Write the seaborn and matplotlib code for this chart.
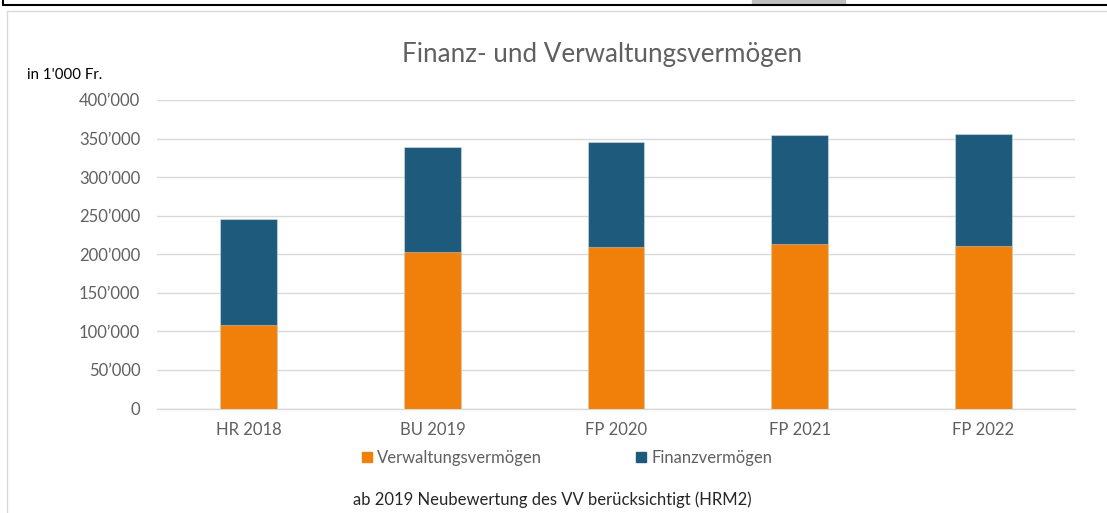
import matplotlib
matplotlib.use("Agg")
import matplotlib.pyplot as plt
import seaborn as sns
import numpy as np
import pandas as pd
from matplotlib.patches import Rectangle
from matplotlib.lines import Line2D
from matplotlib.ticker import FuncFormatter

categories = ["HR 2018", "BU 2019", "FP 2020", "FP 2021", "FP 2022"]
verwaltung = [108100, 202300, 209100, 213900, 210400]
finanz = [137300, 137200, 136900, 141200, 146000]
series_names = ["Verwaltungsvermögen", "Finanzvermögen"]
title = "Finanz- und Verwaltungsvermögen"
unit_label = "in 1'000 Fr."
footnote = "ab 2019 Neubewertung des VV berücksichtigt (HRM2)"

c_orange = "#F0800A"
c_blue = "#1E5A7C"
c_grey = "#606060"

sns.set_theme(style="white")
plt.rcParams["font.family"] = ["Lato", "DejaVu Sans"]

df = pd.DataFrame({"cat": categories, "verw": verwaltung, "fin": finanz})
df["total"] = df["verw"] + df["fin"]

fig = plt.figure(figsize=(11.07, 5.13), dpi=100)
ax = fig.add_axes([157 / 1107, 1 - 408.5 / 513, 918 / 1107, 308.5 / 513])

sns.barplot(data=df, x="cat", y="total", color=c_blue, width=0.31, ax=ax,
            saturation=1, edgecolor=(1, 1, 1, 0.35), linewidth=0.8, zorder=3)
sns.barplot(data=df, x="cat", y="verw", color=c_orange, width=0.31, ax=ax,
            saturation=1, edgecolor=(1, 1, 1, 0.35), linewidth=0.8, zorder=4)

ax.set_xlim(-0.5, 4.5)
ax.set_ylim(0, 400000)
ax.set_yticks(np.arange(0, 400001, 50000))
ax.yaxis.set_major_formatter(FuncFormatter(
    lambda v, p: "0" if v == 0 else f"{int(v)//1000}\u2019{int(v)%1000:03d}"))
ax.grid(axis="y", color="#D9D9D9", linewidth=1, zorder=0)
ax.set_axisbelow(True)
for s in ["top", "right", "left"]:
    ax.spines[s].set_visible(False)
ax.spines["bottom"].set_color("#D9D9D9")
ax.spines["bottom"].set_linewidth(1)
ax.set_xlabel("")
ax.set_ylabel("")
ax.tick_params(axis="both", length=0, labelsize=12, labelcolor=c_grey)
ax.tick_params(axis="y", pad=12)
ax.tick_params(axis="x", pad=10)

fig.text(602 / 1107, 1 - 55 / 513, title, ha="center", va="center",
         fontsize=18.7, color=c_grey)
fig.text(27 / 1107, 1 - 75 / 513, unit_label, ha="left", va="center",
         fontsize=10.8, color="black")
fig.text(552 / 1107, 1 - 500 / 513, footnote, ha="center", va="center",
         fontsize=12, color="#262626")

handles = [Rectangle((0, 0), 1, 1, color=c_orange), Rectangle((0, 0), 1, 1, color=c_blue)]
leg = fig.legend(handles, series_names, loc="center", bbox_to_anchor=(567 / 1107, 1 - 458 / 513),
                 ncol=2, frameon=False, fontsize=12, handlelength=0.6, handleheight=0.6,
                 handletextpad=0.35, columnspacing=5.6)
for t in leg.get_texts():
    t.set_color(c_grey)

# decorative frame lines
fig.add_artist(Line2D([3 / 1107, 1], [1 - 5 / 513, 1 - 5 / 513], color="black", linewidth=1.5,
                      transform=fig.transFigure))
fig.add_artist(Line2D([3 / 1107, 3 / 1107], [1, 1 - 5 / 513], color="black", linewidth=1.5,
                      transform=fig.transFigure))
fig.add_artist(Rectangle((752 / 1107, 1 - 4 / 513), 93 / 1107, 4 / 513, color="#C0C0C0",
                         transform=fig.transFigure))
fig.add_artist(Line2D([7 / 1107, 1], [1 - 11 / 513, 1 - 11 / 513], color="#D9D9D9", linewidth=1,
                      transform=fig.transFigure))
fig.add_artist(Line2D([7 / 1107, 7 / 1107], [0, 1 - 11 / 513], color="#D9D9D9", linewidth=1,
                      transform=fig.transFigure))

fig.savefig("out.png", dpi=100)
